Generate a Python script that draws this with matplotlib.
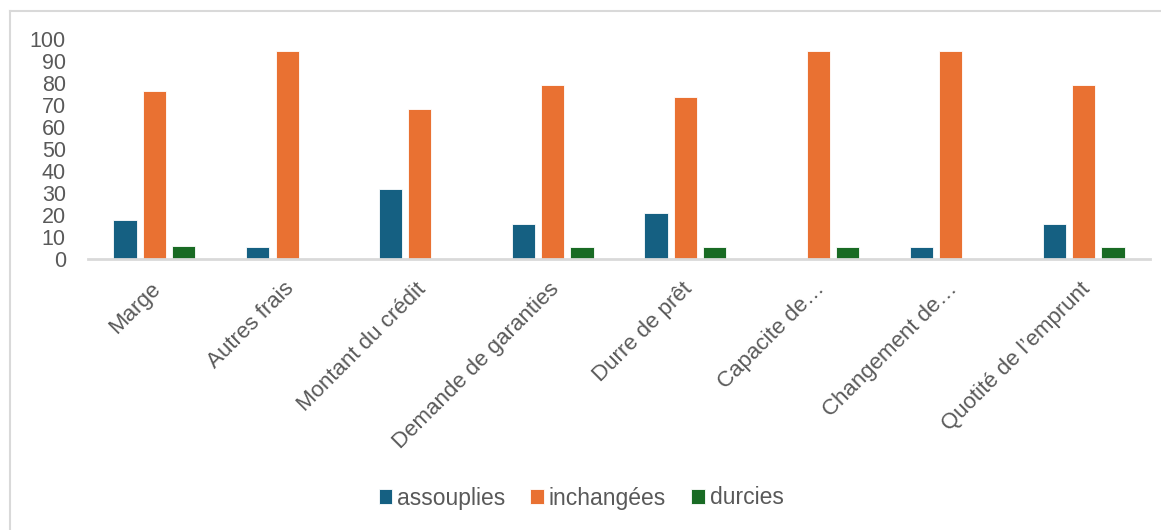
import numpy as np
import matplotlib.pyplot as plt
from matplotlib.lines import Line2D

# Conditions de crédit : part des réponses par critère (%)
criteres = ['Marge', 'Autres frais', 'Montant du crédit', 'Demande de garanties',
            'Durre de prêt', 'Capacite de…', 'Changement de…', 'Quotité de l’emprunt']
assouplies = [17.6, 5.3, 31.6, 15.8, 21.1, 0, 5.3, 15.8]
inchangees = [76.5, 94.7, 68.4, 78.9, 73.7, 94.7, 94.7, 78.9]
durcies = [5.9, 0, 0, 5.3, 5.3, 5.3, 0, 5.3]

series = ['assouplies', 'inchangées', 'durcies']
couleurs = ['#156082', '#E97132', '#196B24']
gris = '#595959'

plt.rcParams['font.family'] = ['Liberation Sans', 'DejaVu Sans']

fig = plt.figure(figsize=(11.61, 5.30), dpi=100)
ax = fig.add_axes([88 / 1161, 271 / 530, 1062 / 1161, 220 / 530])

x = np.arange(len(criteres))
w = 0.175
for i, (vals, c, lab) in enumerate(zip([assouplies, inchangees, durcies], couleurs, series)):
    ax.bar(x + (i - 1) * 0.222, vals, w, color=c, edgecolor='white', linewidth=0.6, label=lab)

ax.set_xlim(-0.5, len(criteres) - 0.5)
ax.set_ylim(0, 100)
ax.set_yticks(range(0, 101, 10))
ax.tick_params(axis='y', length=0, labelsize=15.5, labelcolor=gris, pad=16)
ax.set_xticks(x - 0.03)
ax.set_xticklabels(criteres, rotation=45, ha='right', rotation_mode='anchor')
ax.tick_params(axis='x', length=0, labelsize=16, labelcolor=gris, pad=14)
for s in ['top', 'right', 'left']:
    ax.spines[s].set_visible(False)
ax.spines['bottom'].set_color('#d9d9d9')
ax.spines['bottom'].set_linewidth(2)

fig.legend(loc='center', bbox_to_anchor=(581 / 1161, 1 - 498 / 530), ncol=3,
           frameon=False, fontsize=16.5, labelcolor=gris, handlelength=0.6,
           handleheight=0.6, handletextpad=0.2, columnspacing=1.1)

# cadre gris à gauche et en haut
fig.add_artist(Line2D([10 / 1161, 10 / 1161], [0, 1 - 11 / 530], color='#d9d9d9', lw=1.5))
fig.add_artist(Line2D([10 / 1161, 1], [1 - 11 / 530, 1 - 11 / 530], color='#d9d9d9', lw=1.5))

fig.savefig('out.png', dpi=100, facecolor='white')
